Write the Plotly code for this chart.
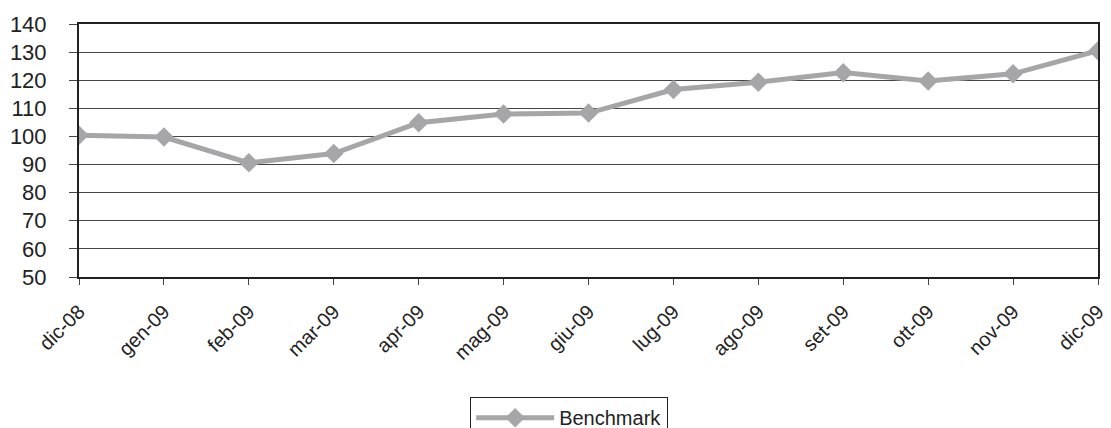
import plotly.graph_objects as go

months = ["dic-08", "gen-09", "feb-09", "mar-09", "apr-09", "mag-09", "giu-09",
          "lug-09", "ago-09", "set-09", "ott-09", "nov-09", "dic-09"]
benchmark = [100.4, 99.8, 90.6, 93.9, 104.9, 108.0, 108.3,
             116.7, 119.3, 122.7, 119.7, 122.3, 130.5]
y_ticks = [50, 60, 70, 80, 90, 100, 110, 120, 130, 140]

fig = go.Figure()
fig.add_trace(go.Scatter(
    x=months, y=benchmark, mode="lines+markers", name="Benchmark",
    line=dict(color="#A6A6A8", width=5),
    marker=dict(symbol="diamond", size=15, color="#A6A6A8"),
))

fig.update_layout(
    width=1103, height=420,
    margin=dict(l=71, r=13, t=16, b=151, autoexpand=False),
    paper_bgcolor="white", plot_bgcolor="white",
    font=dict(family="Liberation Sans, Arial, sans-serif", color="#222"),
    showlegend=True,
    legend=dict(
        x=0.481, xanchor="center", y=-0.475, yanchor="top",
        orientation="h", bordercolor="#222", borderwidth=1,
        font=dict(size=20, color="#222"), itemwidth=78,
    ),
    xaxis=dict(
        type="category", range=[0, 12], tickangle=-45,
        showline=True, linecolor="#222", linewidth=2, mirror=True,
        ticks="outside", ticklen=6, tickcolor="#444", tickwidth=1,
        showgrid=False, tickfont=dict(size=20, color="#222"),
        ticklabelstandoff=7,
    ),
    yaxis=dict(
        range=[50, 140], tickvals=y_ticks,
        showline=True, linecolor="#222", linewidth=2, mirror=True,
        ticks="outside", ticklen=8, tickcolor="#444", tickwidth=1,
        showgrid=True, gridcolor="#444", gridwidth=1,
        tickfont=dict(size=22, color="#222"), ticklabelstandoff=18,
        zeroline=False,
    ),
)

fig.write_html("out.html")
